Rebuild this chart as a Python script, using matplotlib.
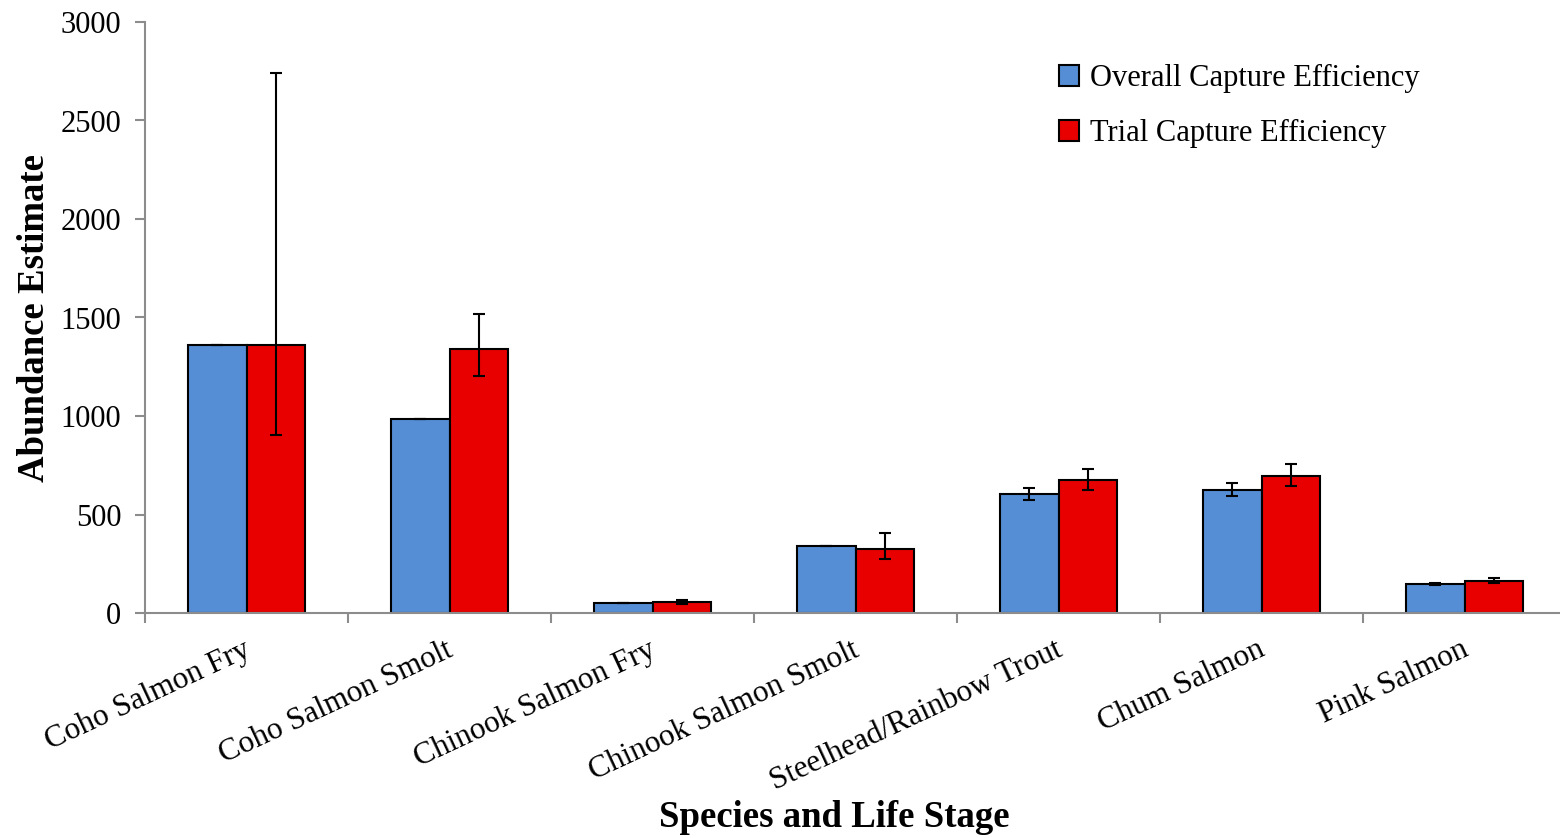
import matplotlib
matplotlib.use("Agg")
import matplotlib.pyplot as plt
import numpy as np

categories = ["Coho Salmon Fry", "Coho Salmon Smolt", "Chinook Salmon Fry",
              "Chinook Salmon Smolt", "Steelhead/Rainbow Trout", "Chum Salmon",
              "Pink Salmon"]
overall = [1360, 985, 51, 340, 604, 624, 147]
overall_lo = [1360, 985, 51, 340, 574, 594, 140]
overall_hi = [1360, 985, 51, 340, 635, 660, 154]
trial = [1360, 1340, 56, 325, 675, 695, 164]
trial_lo = [903, 1203, 48, 274, 624, 645, 152]
trial_hi = [2741, 1518, 64, 406, 731, 756, 178]

series_names = ["Overall Capture Efficiency", "Trial Capture Efficiency"]
yticks = [0, 500, 1000, 1500, 2000, 2500, 3000]

plt.rcParams["font.family"] = ["Liberation Serif", "DejaVu Serif"]

fig = plt.figure(figsize=(15.6, 8.38), dpi=100)
ax = fig.add_axes([145 / 1560, 1 - 613 / 838, 1421 / 1560, (613 - 22) / 838])

x = np.arange(len(categories))
w = 0.286
blue = "#558ED5"
red = "#E80000"

err_o = [np.array(overall) - np.array(overall_lo), np.array(overall_hi) - np.array(overall)]
err_t = [np.array(trial) - np.array(trial_lo), np.array(trial_hi) - np.array(trial)]

ax.bar(x - w / 2, overall, w, color=blue, edgecolor="black", linewidth=1.5,
       label=series_names[0], zorder=2)
ax.bar(x + w / 2, trial, w, color=red, edgecolor="black", linewidth=1.5,
       label=series_names[1], zorder=2)
ax.errorbar(x - w / 2, overall, yerr=err_o, fmt="none", ecolor="black",
            elinewidth=1.5, capsize=4.5, capthick=1.5, zorder=3)
ax.errorbar(x + w / 2, trial, yerr=err_t, fmt="none", ecolor="black",
            elinewidth=1.5, capsize=4.5, capthick=1.5, zorder=3)

ax.set_xlim(-0.5, len(categories) - 0.5)
ax.set_ylim(0, 3000)
ax.set_yticks(yticks)
ax.set_yticklabels([str(t) for t in yticks], fontsize=22)

# category labels centred under each group, tick marks between groups
ax.set_xticks(np.arange(len(categories) + 1) - 0.5)
ax.set_xticklabels([])
ax.tick_params(axis="x", length=7, width=1.5, color="#8c8c8c", direction="out")
ax.tick_params(axis="y", length=7, width=1.5, color="#8c8c8c", direction="out", pad=10)
for i, name in enumerate(categories):
    ax.annotate(name, xy=(i, 0), xycoords=("data", "axes fraction"),
                xytext=(-3, -16), textcoords="offset points",
                rotation=25, ha="right", va="top", fontsize=22.5,
                rotation_mode="anchor")

for side in ("top", "right"):
    ax.spines[side].set_visible(False)
for side in ("left", "bottom"):
    ax.spines[side].set_color("#8c8c8c")
    ax.spines[side].set_linewidth(1.5)

ax.set_ylabel("Abundance Estimate", fontsize=26.5, fontweight="bold", labelpad=6)
fig.text(0.535, 0.024, "Species and Life Stage", fontsize=26.5, fontweight="bold",
         ha="center", va="center")

leg = ax.legend(loc="upper left", bbox_to_anchor=(0.624, 0.975), frameon=False,
                fontsize=22, handlelength=0.65, handleheight=0.65,
                handletextpad=0.35, labelspacing=0.85)

fig.savefig("out.png", dpi=100)
